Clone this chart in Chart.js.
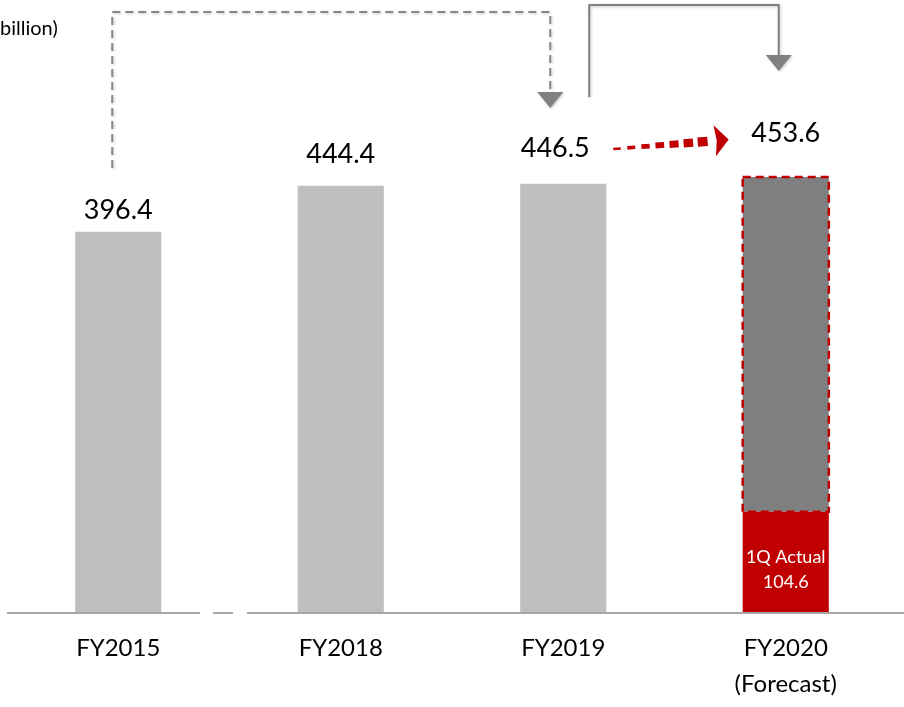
<!DOCTYPE html>
<html>
<head>
<meta charset="utf-8">
<script src="https://cdn.jsdelivr.net/npm/chart.js@4.4.1/dist/chart.umd.min.js"></script>
<style>
  html, body { margin: 0; padding: 0; background: #ffffff; overflow: hidden; }
  #wrap { width: 904px; height: 707px; position: relative; }
</style>
</head>
<body>
<div id="wrap"><canvas id="c" width="904" height="707"></canvas></div>
<script>
// Fiscal years on the category axis (multi-line label for the forecast year)
const categories = ['FY2015', 'FY2018', 'FY2019', ['FY2020', '(Forecast)']];

// Full-year results (JPY billion)
const results = [396.4, 444.4, 446.5, null];
// FY2020 full-year forecast and first-quarter actual
const forecastTotal = [null, null, null, 453.6];
const q1Actual = [null, null, null, 104.6];
// Portion of the forecast still to come after 1Q
const remaining = forecastTotal.map((t, i) => (t == null ? null : +(t - q1Actual[i]).toFixed(1)));

const unitLabel = '(¥ billion)';
const unitVisible = 'billion)';
const q1Caption = '1Q Actual';

// Placement of the value labels above each column
const labelGap = [13, 23, 27, 35];
const labelShift = [0, 0, -8, 0];

const FONT = 'Lato, "Open Sans", "DejaVu Sans", sans-serif';
const RED = '#C00000';
const GREY = '#808080';

const overlay = {
  id: 'overlay',
  afterDatasetsDraw(chart) {
    const ctx = chart.ctx;
    const xs = chart.scales.x;
    const ys = chart.scales.y;
    const area = chart.chartArea;
    const cx = i => xs.getPixelForValue(i);

    ctx.save();

    // dashed outline around the remaining-forecast block
    const rem = chart.getDatasetMeta(2).data[3];
    if (rem) {
      ctx.save();
      ctx.strokeStyle = RED;
      ctx.lineWidth = 2.5;
      ctx.setLineDash([8, 5]);
      ctx.strokeRect(rem.x - rem.width / 2, rem.y, rem.width, rem.base - rem.y);
      ctx.restore();
    }

    // baseline with an axis break between FY2015 and FY2018
    const by = ys.getPixelForValue(0) + 1;
    const mid = (cx(0) + cx(1)) / 2;
    const segs = [[area.left, mid - 29.5], [mid - 16.5, mid + 3.5], [mid + 17.5, chart.width]];
    ctx.strokeStyle = '#A6A6A6';
    ctx.lineWidth = 2;
    segs.forEach(([a, b]) => {
      ctx.beginPath();
      ctx.moveTo(a, by);
      ctx.lineTo(b, by);
      ctx.stroke();
    });

    // value labels above the columns
    ctx.fillStyle = '#000000';
    ctx.font = '27px ' + FONT;
    ctx.textAlign = 'center';
    ctx.textBaseline = 'alphabetic';
    categories.forEach((c, i) => {
      const v = results[i] != null ? results[i] : forecastTotal[i];
      const top = ys.getPixelForValue(v);
      ctx.fillText(v.toFixed(1), cx(i) + labelShift[i], top - labelGap[i]);
    });

    // caption inside the 1Q actual block
    const q1 = chart.getDatasetMeta(1).data[3];
    if (q1) {
      ctx.fillStyle = '#FFFFFF';
      ctx.font = '18px ' + FONT;
      ctx.fillText(q1Caption, q1.x, q1.base - 49);
      ctx.fillText(q1Actual[3].toFixed(1), q1.x, q1.base - 24);
    }

    // unit note at the top-left corner
    ctx.fillStyle = '#000000';
    ctx.font = '20px ' + FONT;
    ctx.textAlign = 'left';
    const lead = ctx.measureText(unitLabel).width - ctx.measureText(unitVisible).width;
    ctx.fillText(unitLabel, -lead, 35);

    // connector arrows
    ctx.shadowColor = 'rgba(0,0,0,0.22)';
    ctx.shadowBlur = 3;
    ctx.shadowOffsetX = 1;
    ctx.shadowOffsetY = 1;
    ctx.strokeStyle = '#888888';
    ctx.fillStyle = GREY;
    ctx.lineWidth = 2;

    // FY2015 -> FY2019 (dashed)
    const a0 = cx(0) - 6, a1 = cx(2) - 13;
    ctx.setLineDash([8, 5]);
    ctx.beginPath();
    ctx.moveTo(a0, 168);
    ctx.lineTo(a0, 12);
    ctx.lineTo(a1, 12);
    ctx.lineTo(a1, 93);
    ctx.stroke();
    ctx.setLineDash([]);
    ctx.beginPath();
    ctx.moveTo(a1 - 13, 92);
    ctx.lineTo(a1 + 13, 92);
    ctx.lineTo(a1, 108);
    ctx.closePath();
    ctx.fill();

    // FY2019 -> FY2020 (solid)
    const b0 = cx(2) + 26, b1 = cx(3) - 7;
    ctx.strokeStyle = GREY;
    ctx.beginPath();
    ctx.moveTo(b0, 97);
    ctx.lineTo(b0, 5);
    ctx.lineTo(b1, 5);
    ctx.lineTo(b1, 56);
    ctx.stroke();
    ctx.beginPath();
    ctx.moveTo(b1 - 13, 55);
    ctx.lineTo(b1 + 13, 55);
    ctx.lineTo(b1, 71);
    ctx.closePath();
    ctx.fill();

    ctx.shadowColor = 'rgba(0,0,0,0)';
    ctx.shadowBlur = 0;
    ctx.shadowOffsetX = 0;
    ctx.shadowOffsetY = 0;

    // red growth arrow from FY2019 to FY2020, dashes thickening toward the head
    const sx = cx(2) + 50, sy = 149;
    const ex = cx(3) - 74, ey = 141;
    const L = Math.hypot(ex - sx, ey - sy);
    const dx = (ex - sx) / L, dy = (ey - sy) / L;
    const nx = -dy, ny = dx;
    ctx.fillStyle = RED;
    const n = 7;
    for (let k = 0; k < n; k++) {
      const t0 = k * (L / n);
      const len = 7.5 + k * 0.4;
      const h = (2.5 + k * 1.15) / 2;
      const px = sx + dx * t0, py = sy + dy * t0;
      const qx = px + dx * len, qy = py + dy * len;
      ctx.beginPath();
      ctx.moveTo(px + nx * h, py + ny * h);
      ctx.lineTo(qx + nx * h, qy + ny * h);
      ctx.lineTo(qx - nx * h, qy - ny * h);
      ctx.lineTo(px - nx * h, py - ny * h);
      ctx.closePath();
      ctx.fill();
    }
    const hx = ex + dx * 3, hy = ey + dy * 3;
    ctx.beginPath();
    ctx.moveTo(hx + nx * 15.5, hy + ny * 15.5);
    ctx.lineTo(hx + dx * 14, hy + dy * 14);
    ctx.lineTo(hx - nx * 15.5, hy - ny * 15.5);
    ctx.lineTo(hx + dx * 2, hy + dy * 2);
    ctx.closePath();
    ctx.fill();

    ctx.restore();
  }
};

const barStyle = { barPercentage: 0.387, categoryPercentage: 1, borderWidth: 0 };

new Chart(document.getElementById('c'), {
  type: 'bar',
  data: {
    labels: categories,
    datasets: [
      Object.assign({ label: 'Results', data: results, backgroundColor: '#BFBFBF' }, barStyle),
      Object.assign({ label: '1Q Actual', data: q1Actual, backgroundColor: RED }, barStyle),
      Object.assign({ label: 'Remaining forecast', data: remaining, backgroundColor: '#7F7F7F' }, barStyle)
    ]
  },
  options: {
    responsive: false,
    animation: false,
    devicePixelRatio: 1,
    layout: { padding: { left: 7, right: 7, top: 0, bottom: 0 } },
    plugins: { legend: { display: false }, tooltip: { enabled: false } },
    scales: {
      x: {
        stacked: true,
        grid: { display: false, drawTicks: false },
        border: { display: false },
        ticks: {
          color: '#000000',
          font: { family: FONT, size: 24, lineHeight: '36px' },
          padding: 18,
          maxRotation: 0,
          autoSkip: false
        },
        afterFit(scale) { scale.height = 95; }
      },
      y: { stacked: true, display: false, min: 0, max: 638 }
    }
  },
  plugins: [overlay]
});
</script>
</body>
</html>
